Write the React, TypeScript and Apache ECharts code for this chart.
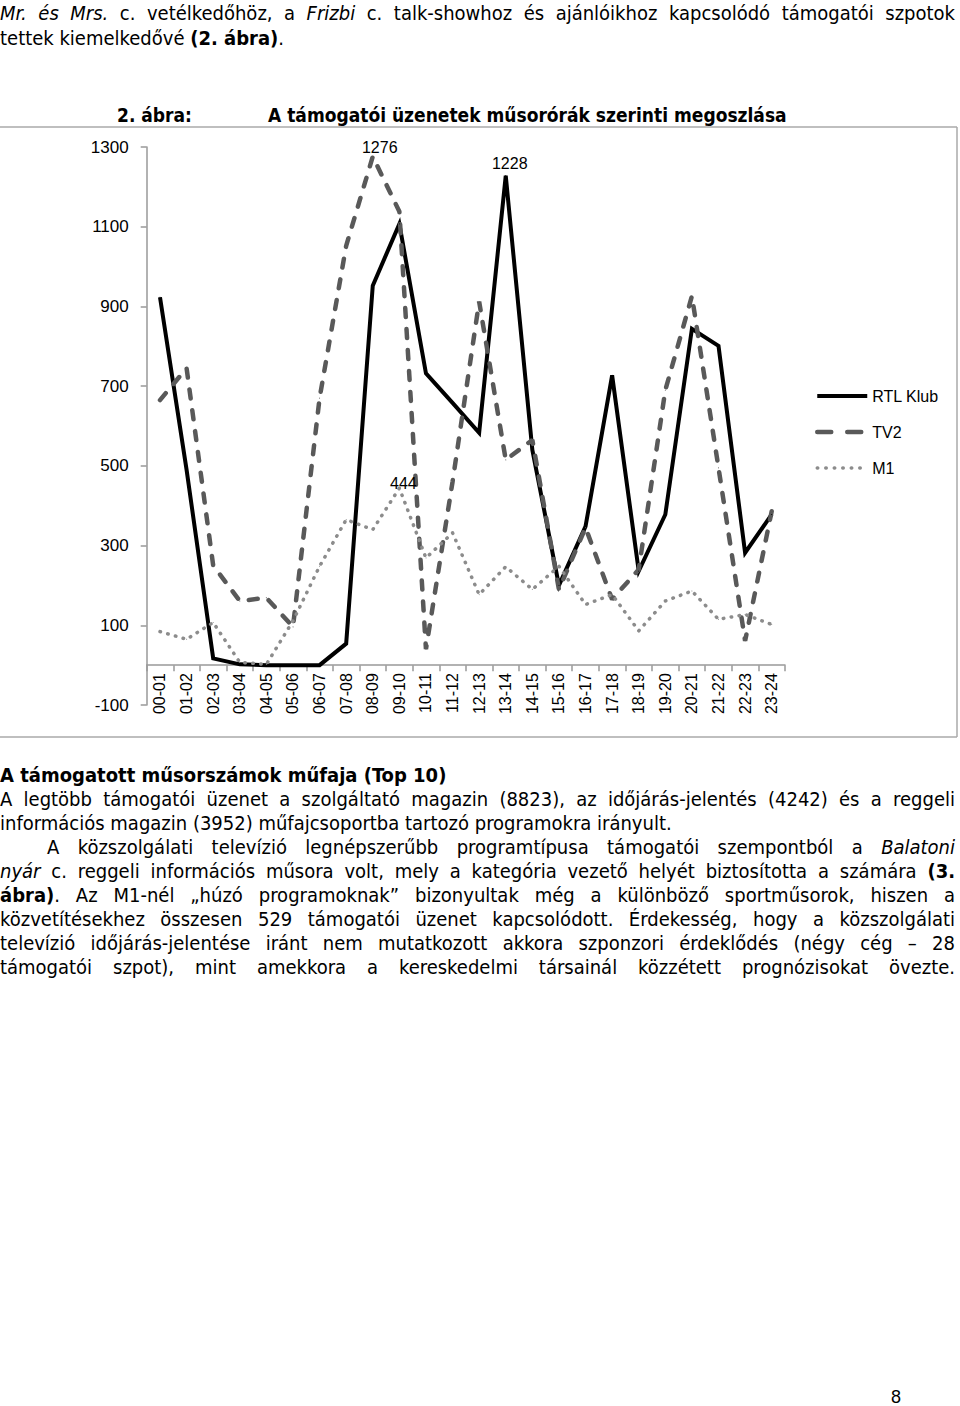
import React, { useEffect, useRef } from "react";
import * as echarts from "echarts";

const categories = [
  "00-01", "01-02", "02-03", "03-04", "04-05", "05-06", "06-07", "07-08",
  "08-09", "09-10", "10-11", "11-12", "12-13", "13-14", "14-15", "15-16",
  "16-17", "17-18", "18-19", "19-20", "20-21", "21-22", "22-23", "23-24",
];
const rtlKlub = [923, 490, 17, 2, 0, 0, 0, 54, 952, 1107, 732, 658, 583, 1228, 540, 200, 348, 727, 236, 378, 844, 801, 282, 378];
const tv2 = [665, 745, 250, 161, 169, 96, 670, 1052, 1276, 1138, 40, 460, 912, 515, 565, 190, 345, 165, 240, 690, 926, 495, 61, 386];
const m1 = [84, 65, 107, 7, 2, 111, 248, 365, 340, 444, 269, 332, 177, 247, 190, 248, 152, 177, 86, 161, 186, 115, 127, 102];
const seriesNames = ["RTL Klub", "TV2", "M1"];
const yTicks = { min: -100, max: 1300, interval: 200 };
const labelled = { "TV2": 8, "RTL Klub": 13, "M1": 9 } as Record<string, number>;

const AXIS_FONT = '"Liberation Sans", Arial, sans-serif';
const TEXT_FONT = '"DejaVu Sans Condensed", "Open Sans", sans-serif';

const GRID_TOP = 147;
const GRID_H = 558;
const zeroOffset = -(GRID_H * (0 - yTicks.min)) / (yTicks.max - yTicks.min);

function withLabel(name: string, values: number[], offset: number[], distance: number) {
  return values.map((v, i) =>
    i === labelled[name]
      ? {
          value: v,
          label: {
            show: true,
            position: "top",
            distance,
            offset,
            color: "#000",
            fontSize: 16,
            fontFamily: AXIS_FONT,
          },
        }
      : v
  );
}

function Chart() {
  const ref = useRef<HTMLDivElement>(null);
  useEffect(() => {
    if (!ref.current) return;
    const chart = echarts.init(ref.current, undefined, { renderer: "svg" });
    chart.setOption({
      animation: false,
      backgroundColor: "transparent",
      grid: {
        left: 146.7,
        top: GRID_TOP,
        width: 638.3,
        height: GRID_H,
        containLabel: false,
        outerBoundsMode: "none",
      },
      legend: {
        orient: "vertical",
        left: 815,
        top: 388,
        padding: 0,
        itemWidth: 50,
        itemHeight: 14,
        itemGap: 20,
        textStyle: { fontSize: 16, color: "#000", fontFamily: AXIS_FONT },
        data: [
          { name: "RTL Klub", itemStyle: { opacity: 0 }, lineStyle: { color: "#000", width: 4, type: "solid" } },
          { name: "TV2", itemStyle: { opacity: 0 }, lineStyle: { color: "#595959", width: 4.5, type: [14, 16], cap: "round" } },
          { name: "M1", itemStyle: { opacity: 0 }, lineStyle: { color: "#8c8c8c", width: 3.5, type: [0.5, 8], cap: "round" } },
        ],
      },
      xAxis: {
        type: "category",
        data: categories,
        boundaryGap: true,
        offset: zeroOffset,
        axisLine: { onZero: false, lineStyle: { color: "#999", width: 1.5 } },
        axisTick: { show: true, length: 6, interval: 0, lineStyle: { color: "#999", width: 1.5 } },
        axisLabel: {
          interval: 0,
          rotate: 90,
          margin: 8,
          color: "#000",
          fontSize: 16,
          fontFamily: AXIS_FONT,
        },
        splitLine: { show: false },
      },
      yAxis: {
        type: "value",
        min: yTicks.min,
        max: yTicks.max,
        interval: yTicks.interval,
        axisLine: { show: true, lineStyle: { color: "#999", width: 1.5 } },
        axisTick: { show: true, length: 6, lineStyle: { color: "#999", width: 1.5 } },
        axisLabel: {
          color: "#000",
          fontSize: 17,
          fontFamily: AXIS_FONT,
          margin: 18,
          formatter: (v: number) => String(v),
        },
        splitLine: { show: false },
      },
      series: [
        {
          name: seriesNames[0],
          type: "line",
          data: withLabel("RTL Klub", rtlKlub, [4, 0], 4),
          symbol: "circle",
          symbolSize: 1,
          showAllSymbol: true,
          lineStyle: { color: "#000", width: 4, join: "miter" },
          itemStyle: { color: "#000" },
        },
        {
          name: seriesNames[1],
          type: "line",
          data: withLabel("TV2", tv2, [7, 0], 1),
          symbol: "circle",
          symbolSize: 1,
          showAllSymbol: true,
          lineStyle: { color: "#595959", width: 4.5, type: [9, 12], cap: "round" },
          itemStyle: { color: "#595959" },
        },
        {
          name: seriesNames[2],
          type: "line",
          data: withLabel("M1", m1, [4, 9], 5),
          symbol: "circle",
          symbolSize: 1,
          showAllSymbol: true,
          lineStyle: { color: "#8c8c8c", width: 3.5, type: [0.5, 7.5], cap: "round" },
          itemStyle: { color: "#8c8c8c" },
        },
      ],
      graphic: [
        { type: "line", shape: { x1: 0, y1: 127, x2: 957, y2: 127 }, style: { stroke: "#aaa", lineWidth: 1.5 } },
        { type: "line", shape: { x1: 957, y1: 127, x2: 957, y2: 737 }, style: { stroke: "#aaa", lineWidth: 1.5 } },
        { type: "line", shape: { x1: 0, y1: 737, x2: 957, y2: 737 }, style: { stroke: "#aaa", lineWidth: 1.5 } },
      ],
    });
    return () => chart.dispose();
  }, []);
  return <div ref={ref} style={{ position: "absolute", left: 0, top: 0, width: 960, height: 760 }} />;
}

const J: React.CSSProperties = { textAlign: "justify", textAlignLast: "justify" as any };

function Line({ top, left = 0, width, justify = true, children, bold = false, size }: any) {
  return (
    <div
      style={{
        position: "absolute",
        top,
        left,
        width,
        height: 24,
        lineHeight: "24px",
        fontWeight: bold ? 700 : 400,
        whiteSpace: justify ? "normal" : "nowrap",
        ...(size ? { fontSize: size } : {}),
        ...(justify ? J : {}),
      }}
    >
      {children}
    </div>
  );
}

export default function App() {
  return (
    <div
      style={{
        position: "absolute",
        left: 0,
        top: 0,
        width: 960,
        height: 1406,
        background: "#fff",
        color: "#000",
        fontFamily: TEXT_FONT,
        fontSize: 20,
        overflow: "hidden",
      }}
    >
      <Line top={1} width={955}>
        <i>Mr. és Mrs.</i> c. vetélkedőhöz, a <i>Frizbi</i> c. talk-showhoz és ajánlóikhoz kapcsolódó támogatói szpotok
      </Line>
      <Line top={26} justify={false}>
        tettek kiemelkedővé <b>(2. ábra)</b>.
      </Line>

      <Chart />

      <Line top={103} left={117} justify={false} bold size={19}>
        2. ábra:
      </Line>
      <Line top={103} left={268} justify={false} bold size={19}>
        A támogatói üzenetek műsorórák szerinti megoszlása
      </Line>

      <Line top={763} justify={false} bold>
        A támogatott műsorszámok műfaja (Top 10)
      </Line>
      <Line top={787} width={955}>
        A legtöbb támogatói üzenet a szolgáltató magazin (8823), az időjárás-jelentés (4242) és a reggeli
      </Line>
      <Line top={811} justify={false}>
        információs magazin (3952) műfajcsoportba tartozó programokra irányult.
      </Line>
      <Line top={835} left={47} width={908}>
        A közszolgálati televízió legnépszerűbb programtípusa támogatói szempontból a <i>Balatoni</i>
      </Line>
      <Line top={859} width={955}>
        <i>nyár</i> c. reggeli információs műsora volt, mely a kategória vezető helyét biztosította a számára <b>(3.</b>
      </Line>
      <Line top={883} width={955}>
        <b>ábra)</b>. Az M1-nél „húzó programoknak” bizonyultak még a különböző sportműsorok, hiszen a
      </Line>
      <Line top={907} width={955}>
        közvetítésekhez összesen 529 támogatói üzenet kapcsolódott. Érdekesség, hogy a közszolgálati
      </Line>
      <Line top={931} width={955}>
        televízió időjárás-jelentése iránt nem mutatkozott akkora szponzori érdeklődés (négy cég – 28
      </Line>
      <Line top={955} width={955}>
        támogatói szpot), mint amekkora a kereskedelmi társainál közzétett prognózisokat övezte.
      </Line>

      <div
        style={{
          position: "absolute",
          left: 891,
          top: 1385,
          fontSize: 18,
          lineHeight: "24px",
          fontFamily: AXIS_FONT,
        }}
      >
        8
      </div>
    </div>
  );
}
